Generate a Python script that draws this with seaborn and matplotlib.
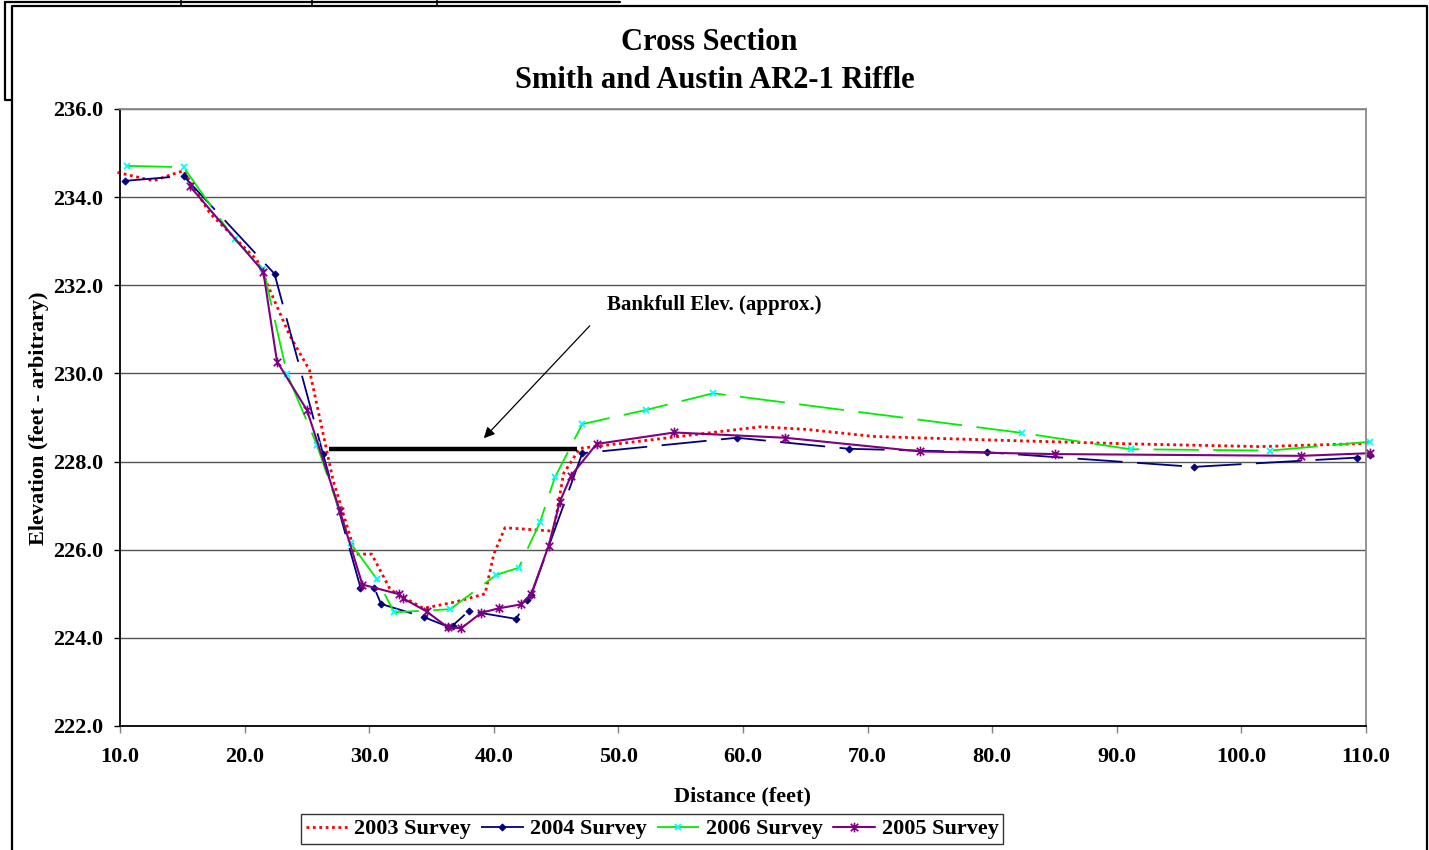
import matplotlib
matplotlib.use("Agg")
import matplotlib.pyplot as plt
from matplotlib.lines import Line2D
from matplotlib.path import Path
import seaborn as sns
import pandas as pd

# ---- survey data: distance (feet) vs elevation (feet, arbitrary datum) ----
dist_2003 = [9.8, 12.7, 14.0, 15.1, 17.2, 21.0, 21.8, 23.6, 25.2, 27.1, 28.9, 30.2,
             31.7, 34.35, 37.0, 39.3, 40.0, 40.9, 44.8, 45.6, 46.9, 61.4, 65.1, 70.5,
             79.8, 91.3, 101.5, 110.05]
elev_2003 = [234.56, 234.37, 234.5, 234.6, 233.64, 232.57, 232.04, 230.87, 230.08, 227.58,
             225.9, 225.9, 225.09, 224.67, 224.82, 225.0, 225.9, 226.5, 226.42, 227.73,
             228.3, 228.79, 228.73, 228.57, 228.49, 228.4, 228.34, 228.41]

dist_2004 = [10.4, 15.1, 22.4, 26.3, 29.3, 30.4, 30.95, 34.4, 36.35, 36.7, 38.0, 41.8,
             42.7, 43.0, 47.1, 59.5, 68.5, 79.6, 96.2, 109.25, 110.3]
elev_2004 = [234.37, 234.48, 232.26, 228.17, 225.14, 225.14, 224.77, 224.47, 224.25, 224.28,
             224.61, 224.43, 224.87, 224.97, 228.19, 228.54, 228.29, 228.21, 227.88, 228.09,
             228.14]

dist_2006 = [10.56, 15.1, 19.2, 21.5, 23.4, 25.8, 28.5, 30.6, 32.0, 36.5, 40.2, 42.0,
             43.7, 44.9, 47.1, 52.2, 57.6, 82.4, 91.1, 102.3, 110.3]
elev_2006 = [234.71, 234.68, 233.04, 232.37, 229.99, 228.38, 226.15, 225.34, 224.58, 224.65,
             225.43, 225.59, 226.62, 227.64, 228.85, 229.17, 229.55, 228.65, 228.28, 228.25,
             228.45]

dist_2005 = [15.6, 21.5, 22.6, 25.0, 27.65, 29.45, 32.4, 32.7, 34.6, 36.3, 37.4, 39.0,
             40.4, 42.2, 43.0, 44.4, 45.3, 46.2, 48.25, 54.5, 63.4, 74.2, 85.0, 104.8, 110.3]
elev_2005 = [234.25, 232.31, 230.27, 229.17, 226.88, 225.21, 224.99, 224.9, 224.6, 224.24,
             224.22, 224.57, 224.67, 224.76, 224.99, 226.09, 227.09, 227.68, 228.4, 228.66,
             228.54, 228.23, 228.17, 228.13, 228.19]

bankfull_x = [26.8, 46.7]
bankfull_elev = 228.28

x_ticks = [10, 20, 30, 40, 50, 60, 70, 80, 90, 100, 110]
y_ticks = [222, 224, 226, 228, 230, 232, 234, 236]

# ---- styling ----
sns.set_style("white")
plt.rcParams["font.family"] = ["Liberation Serif", "DejaVu Serif"]
plt.rcParams["font.weight"] = "bold"
for key in ("text.color", "axes.labelcolor", "xtick.color", "ytick.color",
            "xtick.labelcolor", "ytick.labelcolor"):
    plt.rcParams[key] = "black"

W, H = 1429, 850
fig = plt.figure(figsize=(W / 100, H / 100), dpi=100)
fig.patch.set_facecolor("white")
L, R, T, B = 120, 1366, 109, 726
ax = fig.add_axes([L / W, 1 - B / H, (R - L) / W, (B - T) / H])

# asterisk marker: an x crossed by a vertical bar
star_path = Path([(-1, -1), (1, 1), (-1, 1), (1, -1), (0, -1.3), (0, 1.3)],
                 [Path.MOVETO, Path.LINETO, Path.MOVETO, Path.LINETO, Path.MOVETO, Path.LINETO])

series = [
    ("2003 Survey", dist_2003, elev_2003,
     dict(color="#FF0000", linewidth=2.0, linestyle=(0, (1, 1.3)), marker=None)),
    ("2004 Survey", dist_2004, elev_2004,
     dict(color="#000080", linewidth=1.3, linestyle=(0, (25, 8)), marker="D",
          markersize=3.5, markerfacecolor="#000080", markeredgecolor="#000080")),
    ("2006 Survey", dist_2006, elev_2006,
     dict(color="#00EE00", linewidth=1.3, linestyle=(0, (25, 8)), marker="x",
          markersize=5, markeredgecolor="#00FFFF", markeredgewidth=1.3)),
    ("2005 Survey", dist_2005, elev_2005,
     dict(color="#800080", linewidth=1.5, linestyle="-", marker=star_path,
          markersize=7, markeredgecolor="#800080", markeredgewidth=1.2)),
]

for name, xs, ys, style in series:
    df = pd.DataFrame({"Distance": xs, "Elevation": ys})
    sns.lineplot(data=df, x="Distance", y="Elevation", ax=ax, sort=False,
                 estimator=None, label=name, clip_on=False, **style)

# bankfull elevation marker line and callout
ax.plot(bankfull_x, [bankfull_elev, bankfull_elev], color="black", linewidth=3.2,
        solid_capstyle="butt", zorder=5)
ax.text(57.7, 231.55, "Bankfull Elev. (approx.)", ha="center", va="center",
        fontsize=15, fontweight="bold")
ax.annotate("", xy=(39.2, 228.53), xytext=(47.7, 231.08),
            arrowprops=dict(arrowstyle="-|>", color="black", lw=0.9,
                            mutation_scale=16, shrinkA=0, shrinkB=0))

# axes, ticks and grid
ax.set_xlim(10, 110)
ax.set_ylim(222, 236)
ax.set_xticks(x_ticks)
ax.set_yticks(y_ticks)
ax.set_xticklabels([f"{v:.1f}" for v in x_ticks])
ax.set_yticklabels([f"{v:.1f}" for v in y_ticks])
ax.tick_params(axis="y", direction="out", length=4, width=1, color="black",
               pad=8, labelsize=16, left=True)
ax.tick_params(axis="x", direction="out", length=5, width=1, color="#808080",
               pad=10, labelsize=16, bottom=True)
for lab in ax.get_xticklabels() + ax.get_yticklabels():
    lab.set_fontweight("bold")
ax.yaxis.grid(True, color="#555555", linewidth=1.0)
ax.xaxis.grid(False)
ax.set_axisbelow(True)

for side in ("top", "right"):
    ax.spines[side].set_color("#8a8a8a")
    ax.spines[side].set_linewidth(1.3)
for side in ("left", "bottom"):
    ax.spines[side].set_color("black")
    ax.spines[side].set_linewidth(1.3)
    ax.spines[side].set_visible(True)

ax.set_xlabel("Distance (feet)", fontsize=16, fontweight="bold")
ax.set_ylabel("Elevation (feet - arbitrary)", fontsize=16, fontweight="bold")
ax.xaxis.set_label_coords((742 - L) / (R - L), (B - 786) / (B - T))
ax.yaxis.set_label_coords((49 - L) / (R - L), (B - 418) / (B - T))

# two-line chart title
fig.text(709 / W, 1 - 42 / H, "Cross Section", ha="center", va="center",
         fontsize=22, fontweight="bold")
fig.text(715 / W, 1 - 80 / H, "Smith and Austin AR2-1 Riffle", ha="center", va="center",
         fontsize=22, fontweight="bold")

# legend along the bottom
ax.get_legend().remove()
handles, labels = ax.get_legend_handles_labels()
leg = fig.legend(handles, labels, loc="center", bbox_to_anchor=(652 / W, 1 - 829 / H),
                 ncol=4, frameon=True, fancybox=False, fontsize=16,
                 handlelength=1.9, handletextpad=0.3, columnspacing=0.45,
                 borderpad=0.2, borderaxespad=0)
leg.get_frame().set_edgecolor("black")
leg.get_frame().set_linewidth(1.0)
for t in leg.get_texts():
    t.set_fontweight("bold")

# chart frame and the sheet border peeking out behind it
def fline(xs, ys, **kw):
    fig.add_artist(Line2D([x / W for x in xs], [1 - y / H for y in ys],
                          transform=fig.transFigure, color="black", **kw))

fline([12, 12, 1427, 1427], [852, 6, 6, 852], linewidth=1.6)
fline([5, 5, 12], [1.5, 100, 100], linewidth=1.6)
fline([5, 620], [1.5, 1.5], linewidth=1.6)
for vx in (181, 312, 437):
    fline([vx, vx], [0, 5], linewidth=1.2)

fig.savefig("out.png", dpi=100, facecolor="white")
